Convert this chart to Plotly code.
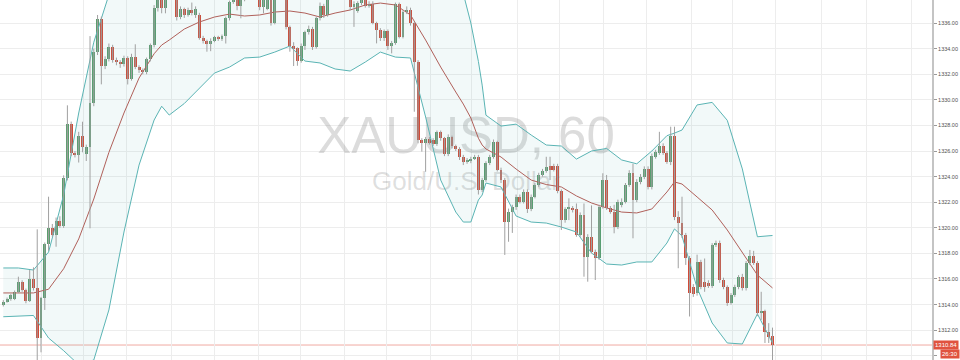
import plotly.graph_objects as go

# ---------------- data ----------------
open_ = [
    1313.97, 1314.23, 1314.41, 1314.44, 1315.00, 1315.79, 1315.14, 1314.30, 1316.00, 1315.27,
    1311.37, 1314.49, 1318.71, 1320.00, 1319.44, 1320.53, 1320.16, 1323.89, 1328.11, 1325.87,
    1325.66, 1327.17, 1325.75, 1326.34, 1329.77, 1333.71, 1336.31, 1332.66, 1333.19, 1334.15,
    1333.11, 1332.95, 1332.78, 1333.27, 1331.63, 1333.32, 1332.54, 1332.33, 1332.20, 1333.19,
    1334.28, 1337.15, 1338.30, 1337.15, 1338.50, 1339.10, 1338.60, 1336.45, 1337.07, 1336.63,
    1337.00, 1336.60, 1336.63, 1334.85, 1334.57, 1334.36, 1334.62, 1334.88, 1334.72, 1334.96,
    1336.37, 1337.66, 1338.20, 1337.30, 1337.90, 1338.60, 1338.30, 1338.90, 1338.40, 1337.23,
    1337.07, 1338.30, 1336.02, 1338.30, 1338.00, 1337.90, 1335.66, 1334.23, 1334.02, 1333.05,
    1334.23, 1335.27, 1335.53, 1334.10, 1336.37, 1337.35, 1336.63, 1338.10, 1338.60, 1338.30,
    1338.90, 1338.50, 1338.30, 1337.23, 1336.96, 1337.54, 1338.00, 1337.35, 1337.50, 1336.02,
    1335.45, 1334.80, 1335.38, 1334.23, 1334.41, 1337.46, 1334.93, 1336.84, 1337.02, 1335.98,
    1332.98, 1326.86, 1326.65, 1326.96, 1326.86, 1326.55, 1327.46, 1326.99, 1325.77, 1327.12,
    1326.41, 1326.13, 1325.55, 1325.16, 1325.20, 1325.40, 1325.55, 1322.95, 1323.73, 1325.06,
    1325.53, 1326.70, 1324.52, 1323.73, 1320.48, 1321.26, 1321.60, 1322.43, 1322.04, 1322.82,
    1321.45, 1322.43, 1323.34, 1324.13, 1324.44, 1324.80, 1324.80, 1324.80, 1322.90, 1320.61,
    1321.47, 1321.55, 1321.45, 1319.44, 1321.00, 1317.74, 1319.30, 1318.13, 1317.62, 1321.65,
    1323.73, 1321.52, 1321.26, 1320.09, 1321.80, 1322.04, 1323.34, 1324.28, 1322.20, 1323.60,
    1324.00, 1324.60, 1323.20, 1325.55, 1325.87, 1326.41, 1325.87, 1325.16, 1327.17, 1320.87,
    1320.40, 1319.44, 1317.62, 1315.40, 1314.90, 1317.35, 1315.79, 1315.72, 1315.46, 1318.67,
    1318.80, 1315.92, 1315.40, 1314.15, 1314.75, 1315.40, 1316.18, 1315.27, 1317.23, 1317.80,
    1317.23, 1313.32, 1313.50, 1311.88, 1311.57,
]
high = [
    1314.35, 1314.55, 1314.85, 1315.10, 1316.18, 1315.90, 1315.25, 1316.70, 1316.91, 1319.88,
    1314.60, 1318.85, 1322.43, 1320.30, 1320.80, 1320.90, 1324.10, 1329.57, 1328.30, 1326.00,
    1327.50, 1328.29, 1326.50, 1334.98, 1334.00, 1336.63, 1336.50, 1333.40, 1334.40, 1334.30,
    1333.30, 1333.10, 1333.45, 1333.40, 1333.60, 1334.34, 1332.70, 1332.45, 1333.30, 1334.40,
    1337.40, 1338.60, 1338.50, 1338.80, 1339.40, 1339.50, 1338.80, 1337.30, 1337.20, 1337.20,
    1337.60, 1337.30, 1336.80, 1335.00, 1334.70, 1334.80, 1335.00, 1335.00, 1335.10, 1336.50,
    1337.75, 1338.50, 1338.60, 1338.40, 1338.90, 1339.00, 1339.20, 1339.10, 1338.60, 1338.20,
    1338.60, 1338.50, 1338.60, 1338.70, 1338.40, 1338.10, 1335.80, 1334.50, 1334.10, 1334.40,
    1335.40, 1335.80, 1335.70, 1336.50, 1337.60, 1337.50, 1338.40, 1338.90, 1339.00, 1339.20,
    1339.30, 1338.80, 1338.50, 1337.70, 1337.70, 1338.20, 1338.20, 1337.70, 1337.70, 1336.10,
    1335.60, 1335.50, 1335.50, 1334.60, 1337.60, 1337.60, 1337.00, 1337.30, 1337.20, 1336.10,
    1333.10, 1327.00, 1327.10, 1327.10, 1327.00, 1327.60, 1327.60, 1327.10, 1327.30, 1327.20,
    1326.50, 1326.30, 1325.70, 1325.45, 1325.55, 1325.70, 1325.70, 1323.90, 1325.20, 1325.70,
    1326.90, 1326.80, 1324.70, 1323.90, 1321.50, 1321.80, 1322.60, 1322.60, 1323.00, 1323.00,
    1322.60, 1323.50, 1324.30, 1324.60, 1325.55, 1325.55, 1325.00, 1325.00, 1323.00, 1321.60,
    1322.30, 1321.70, 1321.90, 1321.20, 1321.90, 1319.50, 1321.75, 1318.30, 1321.80, 1324.26,
    1324.13, 1321.70, 1321.80, 1322.20, 1322.30, 1323.50, 1324.50, 1325.00, 1323.80, 1324.20,
    1324.80, 1324.80, 1325.80, 1326.10, 1327.50, 1326.60, 1326.00, 1327.90, 1327.90, 1321.30,
    1322.43, 1319.60, 1317.80, 1315.60, 1317.90, 1317.50, 1317.60, 1315.90, 1318.80, 1319.00,
    1319.00, 1316.10, 1315.50, 1314.90, 1315.55, 1316.30, 1316.40, 1317.40, 1318.27, 1318.20,
    1317.40, 1315.00, 1313.60, 1312.55, 1312.20,
]
low = [
    1313.85, 1314.15, 1314.30, 1314.35, 1314.90, 1315.00, 1314.10, 1314.20, 1315.10, 1309.40,
    1310.27, 1313.58, 1318.20, 1319.30, 1318.52, 1320.00, 1320.00, 1323.70, 1325.60, 1325.50,
    1325.10, 1325.90, 1325.22, 1319.96, 1329.50, 1333.50, 1331.21, 1332.40, 1333.00, 1332.90,
    1332.70, 1332.50, 1332.60, 1331.20, 1331.50, 1332.40, 1332.10, 1332.00, 1332.00, 1333.00,
    1334.10, 1336.90, 1336.76, 1336.76, 1338.10, 1338.20, 1336.20, 1336.30, 1336.40, 1336.50,
    1336.60, 1336.40, 1334.70, 1334.40, 1333.76, 1333.80, 1334.50, 1334.60, 1334.60, 1334.40,
    1336.20, 1337.50, 1337.00, 1336.37, 1337.70, 1338.00, 1338.10, 1338.00, 1337.00, 1336.76,
    1337.00, 1335.80, 1335.90, 1337.90, 1337.85, 1335.50, 1333.76, 1332.64, 1332.66, 1332.90,
    1333.90, 1335.10, 1333.90, 1334.00, 1336.20, 1336.40, 1336.50, 1337.90, 1338.00, 1338.10,
    1338.20, 1338.00, 1337.00, 1335.70, 1336.80, 1337.40, 1337.20, 1337.20, 1335.90, 1334.41,
    1334.60, 1334.60, 1333.90, 1333.63, 1334.30, 1334.80, 1334.80, 1336.70, 1335.80, 1329.07,
    1326.60, 1325.95, 1324.38, 1326.50, 1326.40, 1326.40, 1326.80, 1325.60, 1325.60, 1326.20,
    1326.00, 1325.30, 1324.90, 1325.00, 1325.05, 1325.30, 1322.60, 1322.80, 1323.60, 1324.90,
    1325.40, 1324.40, 1323.50, 1317.88, 1318.91, 1319.60, 1321.40, 1321.90, 1321.90, 1321.16,
    1321.30, 1322.30, 1323.20, 1324.00, 1324.30, 1323.73, 1324.40, 1322.70, 1319.83, 1320.40,
    1320.60, 1321.20, 1319.30, 1319.30, 1316.18, 1315.79, 1318.00, 1315.92, 1317.50, 1321.50,
    1321.40, 1321.10, 1319.57, 1319.90, 1321.60, 1321.90, 1323.20, 1319.18, 1322.00, 1323.40,
    1323.80, 1323.00, 1323.00, 1325.40, 1325.70, 1325.70, 1325.00, 1324.90, 1320.60, 1316.84,
    1319.20, 1317.10, 1313.07, 1314.60, 1314.70, 1315.20, 1315.00, 1315.30, 1315.30, 1318.50,
    1315.70, 1315.20, 1313.90, 1314.00, 1314.60, 1315.20, 1315.10, 1315.10, 1317.10, 1317.10,
    1313.10, 1312.80, 1311.00, 1311.00, 1309.50,
]
close_ = [
    1314.23, 1314.44, 1314.75, 1315.00, 1315.79, 1315.14, 1314.30, 1316.00, 1315.27, 1311.37,
    1314.49, 1318.71, 1320.00, 1319.44, 1320.53, 1320.16, 1323.89, 1328.11, 1325.87, 1325.66,
    1327.17, 1326.34, 1326.34, 1329.77, 1333.71, 1336.31, 1332.66, 1333.19, 1334.15, 1333.11,
    1332.95, 1332.78, 1333.27, 1331.63, 1333.32, 1332.54, 1332.33, 1332.20, 1333.19, 1334.28,
    1337.15, 1338.30, 1337.15, 1338.50, 1339.10, 1338.60, 1336.45, 1337.07, 1336.63, 1337.00,
    1336.80, 1337.07, 1334.85, 1334.57, 1334.36, 1334.62, 1334.88, 1334.72, 1334.96, 1336.37,
    1337.66, 1338.20, 1337.30, 1337.90, 1338.60, 1338.30, 1338.90, 1338.40, 1337.23, 1337.90,
    1338.30, 1336.02, 1338.30, 1338.00, 1337.90, 1335.66, 1334.23, 1334.00, 1333.05, 1334.23,
    1335.27, 1335.53, 1334.10, 1336.37, 1337.35, 1336.63, 1338.10, 1338.60, 1338.30, 1338.90,
    1338.50, 1338.30, 1337.23, 1337.50, 1337.54, 1338.00, 1337.35, 1337.50, 1336.02, 1335.45,
    1334.80, 1335.38, 1334.23, 1334.41, 1337.46, 1334.93, 1336.84, 1337.02, 1335.98, 1332.98,
    1326.86, 1326.65, 1326.96, 1326.65, 1326.55, 1327.46, 1326.99, 1325.77, 1327.12, 1326.41,
    1326.13, 1325.55, 1325.16, 1325.30, 1325.40, 1325.55, 1322.95, 1323.73, 1325.06, 1325.53,
    1326.70, 1324.52, 1323.73, 1320.48, 1321.26, 1321.65, 1322.43, 1322.04, 1322.82, 1321.45,
    1322.43, 1323.34, 1324.13, 1324.44, 1324.77, 1324.52, 1324.52, 1322.90, 1320.61, 1321.47,
    1321.55, 1321.40, 1319.44, 1321.00, 1317.74, 1319.30, 1318.13, 1317.62, 1321.65, 1323.73,
    1321.52, 1321.26, 1320.09, 1322.04, 1322.04, 1323.34, 1324.28, 1322.20, 1323.60, 1324.00,
    1324.60, 1323.20, 1325.61, 1325.95, 1326.41, 1325.87, 1325.16, 1327.17, 1320.87, 1320.40,
    1319.44, 1317.62, 1314.88, 1314.83, 1317.35, 1315.40, 1315.40, 1315.46, 1318.67, 1318.80,
    1315.92, 1315.40, 1314.15, 1314.75, 1315.40, 1316.13, 1315.27, 1317.23, 1317.80, 1317.27,
    1313.32, 1313.50, 1311.88, 1311.49, 1310.84,
]

# Bollinger bands (20, 2) at these candle indices
bb_idx = [0, 4, 8, 12, 16, 20, 24, 28, 32, 36,
          40, 42, 44, 48, 52, 56, 60, 64, 68, 72,
          76, 80, 84, 88, 92, 96, 100, 104, 108, 112,
          116, 120, 122, 124, 126, 127, 128, 132, 136, 140,
          144, 148, 152, 156, 160, 164, 168, 172, 176, 178,
          180, 184, 188, 192, 196, 200, 204]
bb_upper = [1316.86, 1316.86, 1316.70, 1318.10, 1322.56, 1328.97, 1334.50, 1338.20, 1338.30, 1338.50,
            1338.80, 1339.10, 1340.50, 1341.30, 1341.20, 1340.90, 1340.80, 1339.80, 1339.90, 1340.00,
            1339.70, 1340.50, 1340.10, 1341.20, 1341.80, 1341.90, 1341.40, 1341.50, 1340.00, 1340.70,
            1341.40, 1340.00, 1338.30, 1336.00, 1333.00, 1331.15, 1328.80, 1327.95, 1328.10, 1327.25,
            1326.47, 1326.39, 1325.37, 1326.00, 1326.20, 1325.30, 1325.00, 1326.00, 1327.20, 1327.40,
            1327.64, 1329.60, 1329.80, 1328.40, 1324.60, 1319.30, 1319.40]
bb_mid = [1314.91, 1314.91, 1314.91, 1315.20, 1316.80, 1319.13, 1322.25, 1325.89, 1328.97, 1331.70,
          1333.60, 1334.28, 1334.67, 1335.53, 1336.08, 1336.47, 1336.70, 1336.55, 1336.63, 1336.86,
          1336.94, 1336.78, 1336.47, 1336.78, 1337.02, 1337.41, 1337.56, 1337.41, 1336.63, 1334.67,
          1332.56, 1330.61, 1329.67, 1328.58, 1327.00, 1326.47, 1326.16, 1325.53, 1324.59, 1323.73,
          1323.38, 1323.19, 1322.49, 1321.94, 1321.55, 1321.23, 1321.16, 1321.47, 1322.80, 1323.58,
          1323.42, 1322.41, 1321.39, 1319.83, 1318.11, 1316.31, 1315.30]
bb_lower = [1313.05, 1313.11, 1313.15, 1311.39, 1310.40, 1309.30, 1309.67, 1313.58, 1319.67, 1324.90,
            1328.42, 1329.50, 1328.81, 1329.71, 1330.92, 1332.09, 1332.56, 1333.27, 1333.34, 1333.73,
            1334.20, 1333.03, 1332.88, 1332.41, 1332.25, 1332.95, 1333.73, 1333.34, 1333.27, 1328.66,
            1323.73, 1321.23, 1320.45, 1320.45, 1322.17, 1322.56, 1323.50, 1323.19, 1320.92, 1320.45,
            1320.37, 1320.06, 1319.67, 1318.03, 1317.17, 1317.09, 1317.33, 1317.33, 1318.81, 1319.91,
            1319.36, 1315.30, 1312.56, 1311.00, 1310.92, 1313.27, 1311.00]

# time-grid positions (candle index) and price ticks
grid_idx = [10.0, 21.4, 32.8, 44.7, 55.9, 67.8, 78.7, 90.6, 101.5, 113.4, 124.3,
            136.5, 147.4, 159.3, 170.5, 182.4, 193.3, 204.9, 216.9, 228.8, 240.8]
y_ticks = [1310, 1312, 1314, 1316, 1318, 1320, 1322, 1324, 1326, 1328, 1330, 1332, 1334, 1336, 1338]
symbol_text = "XAUUSD, 60"
desc_text = "Gold/U.S. Dollar"
countdown_text = "26:30"

# ---------------- styling ----------------
UP = '#5a9d6d'
DOWN = '#d24a37'
WICK = '#a0a0a0'
TEAL = '#5ab4b4'
MIDC = '#b0605a'
FONT = 'Liberation Sans'

y_range = [1309.67, 1337.80]
x_range = [-0.875, 246.3]

n = len(close_)
idx = list(range(n))
last = close_[-1]

fig = go.Figure()

def y_at(px):
    return y_range[1] - px / 360.0 * (y_range[1] - y_range[0])

xc = (x_range[0] + x_range[1]) / 2.0
fig.add_trace(go.Scatter(x=[xc], y=[y_at(140)], mode='text', text=[symbol_text],
                         textposition='middle center',
                         textfont=dict(size=51, color='rgba(110,110,110,0.24)', family=FONT),
                         hoverinfo='skip', showlegend=False))
fig.add_trace(go.Scatter(x=[xc], y=[y_at(183)], mode='text', text=[desc_text],
                         textposition='middle center',
                         textfont=dict(size=26, color='rgba(110,110,110,0.22)', family=FONT),
                         hoverinfo='skip', showlegend=False))

# Bollinger bands
fig.add_trace(go.Scatter(x=bb_idx, y=bb_upper, mode='lines', line=dict(color=TEAL, width=1),
                         hoverinfo='skip', showlegend=False))
fig.add_trace(go.Scatter(x=bb_idx, y=bb_lower, mode='lines', line=dict(color=TEAL, width=1),
                         fill='tonexty', fillcolor='rgba(90,180,180,0.08)',
                         hoverinfo='skip', showlegend=False))
fig.add_trace(go.Scatter(x=bb_idx, y=bb_mid, mode='lines', line=dict(color=MIDC, width=1),
                         hoverinfo='skip', showlegend=False))

# wicks
wx, wy = [], []
for i in idx:
    wx += [i, i, None]
    wy += [low[i], high[i], None]
fig.add_trace(go.Scatter(x=wx, y=wy, mode='lines', line=dict(color=WICK, width=1),
                         hoverinfo='skip', showlegend=False))

# bodies
base = [min(o, c) for o, c in zip(open_, close_)]
hgt = [max(abs(c - o), 0.08) for o, c in zip(open_, close_)]
cols = [UP if c >= o else DOWN for o, c in zip(open_, close_)]
fig.add_trace(go.Bar(x=idx, y=hgt, base=base, width=0.78,
                     marker=dict(color=cols, line=dict(width=0)),
                     hoverinfo='skip', showlegend=False))

fig.add_shape(type='line', xref='paper', x0=0, x1=1, yref='y', y0=last, y1=last,
              line=dict(color='#f0aaa2', width=1), layer='between')

fig.add_annotation(x=1, xref='paper', y=last, yref='y', text=f'{last:.2f}', showarrow=False,
                   xanchor='left', yanchor='middle', xshift=1,
                   font=dict(size=6, color='white', family=FONT),
                   bgcolor='#e0533f', borderpad=1)
fig.add_annotation(x=1, xref='paper', y=last, yref='y', text=countdown_text, showarrow=False,
                   xanchor='left', yanchor='middle', xshift=8, yshift=-9,
                   font=dict(size=6, color='white', family=FONT),
                   bgcolor='#e0533f', borderpad=1)

# the lowest price label sits under the countdown box in the reference: keep its grid line only
tick_text = ['' if v < last else f'{v:.2f}' for v in y_ticks]

fig.update_layout(
    template='none',
    width=960, height=360,
    margin=dict(l=0, r=28, t=0, b=0),
    paper_bgcolor='white', plot_bgcolor='white',
    showlegend=False, barmode='overlay', bargap=0,
    xaxis=dict(range=x_range, tickvals=grid_idx, showticklabels=False, ticks='',
               showgrid=True, gridcolor='#ededed', gridwidth=1,
               zeroline=False, showline=False, fixedrange=True),
    yaxis=dict(range=y_range, side='right', tickvals=y_ticks, ticktext=tick_text,
               showgrid=True, gridcolor='#ededed', gridwidth=1,
               zeroline=False, showline=True, linecolor='#c4c4c4', linewidth=2,
               ticks='outside', ticklen=3, tickcolor='#9a9a9a',
               tickfont=dict(size=5.5, color='#505050', family=FONT), fixedrange=True),
)

fig.write_html("out.html")
